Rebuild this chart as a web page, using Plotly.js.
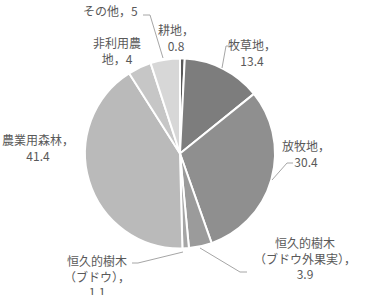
<!DOCTYPE html>
<html><head><meta charset="utf-8">
<script src="https://cdn.plot.ly/plotly-3.0.1.min.js"></script>
<style>html,body{margin:0;padding:0;background:#fff;}#chart{width:365px;height:295px;}</style>
</head><body><div id="chart"></div>
<script>
var categories = ["耕地","牧草地","放牧地","恒久的樹木（ブドウ外果実）","恒久的樹木（ブドウ）","農業用森林","非利用農地","その他"];
var values = [0.8, 13.4, 30.4, 3.9, 1.1, 41.4, 4, 5];
var labelTexts = ["耕地，<br>0.8","牧草地，<br>13.4","放牧地，<br>30.4","恒久的樹木<br>（ブドウ外果実），<br>3.9","恒久的樹木<br>（ブドウ），<br>1.1","農業用森林，<br>41.4","非利用農<br>地，4","その他，5"];
var colors = ["#595959","#7d7d7d","#8f8f8f","#9b9b9b","#a6a6a6","#bababa","#c6c6c6","#d7d7d7"];

var W = 365, H = 295;
function px(x){return x/W;}
function py(y){return 1 - y/H;}

// label centres (pixel layout)
var labelPos = [[176,37],[252,52],[306,153],[305,258],[97,276],[38,147],[117,50],[110,11]];

var annotations = labelTexts.map(function(t,i){
  return {xref:"paper", yref:"paper", x:px(labelPos[i][0]), y:py(labelPos[i][1]),
    text:t, showarrow:false, align:"center", xanchor:"center", yanchor:"middle",
    font:{family:"Noto Sans CJK JP", size:12, color:"#595959"}};
});

function seg(pts){
  var d = "M" + pts.map(function(p){return px(p[0])+","+py(p[1]);}).join(" L");
  return {type:"path", xref:"paper", yref:"paper", path:d, line:{color:"#a6a6a6", width:1}};
}
var shapes = [
  seg([[143,15],[150,15],[163,58]]),
  seg([[233,46],[226,46],[222,68]]),
  seg([[293,163],[287,163],[272,180]]),
  seg([[200,248],[240,272],[247,272]]),
  seg([[132,263],[138,263],[183,252]])
];

var data = [{
  type:"pie", labels:categories, values:values, sort:false, direction:"clockwise", rotation:0,
  marker:{colors:colors, line:{color:"#ffffff", width:2}},
  textinfo:"none", hoverinfo:"label+value",
  domain:{x:[px(85), px(275)], y:[py(248.5), py(58.5)]}
}];

var layout = {width:W, height:H, margin:{l:0,r:0,t:0,b:0}, showlegend:false,
  paper_bgcolor:"#ffffff", annotations:annotations, shapes:shapes};

Plotly.newPlot("chart", data, layout, {displayModeBar:false, staticPlot:true});
</script></body></html>
